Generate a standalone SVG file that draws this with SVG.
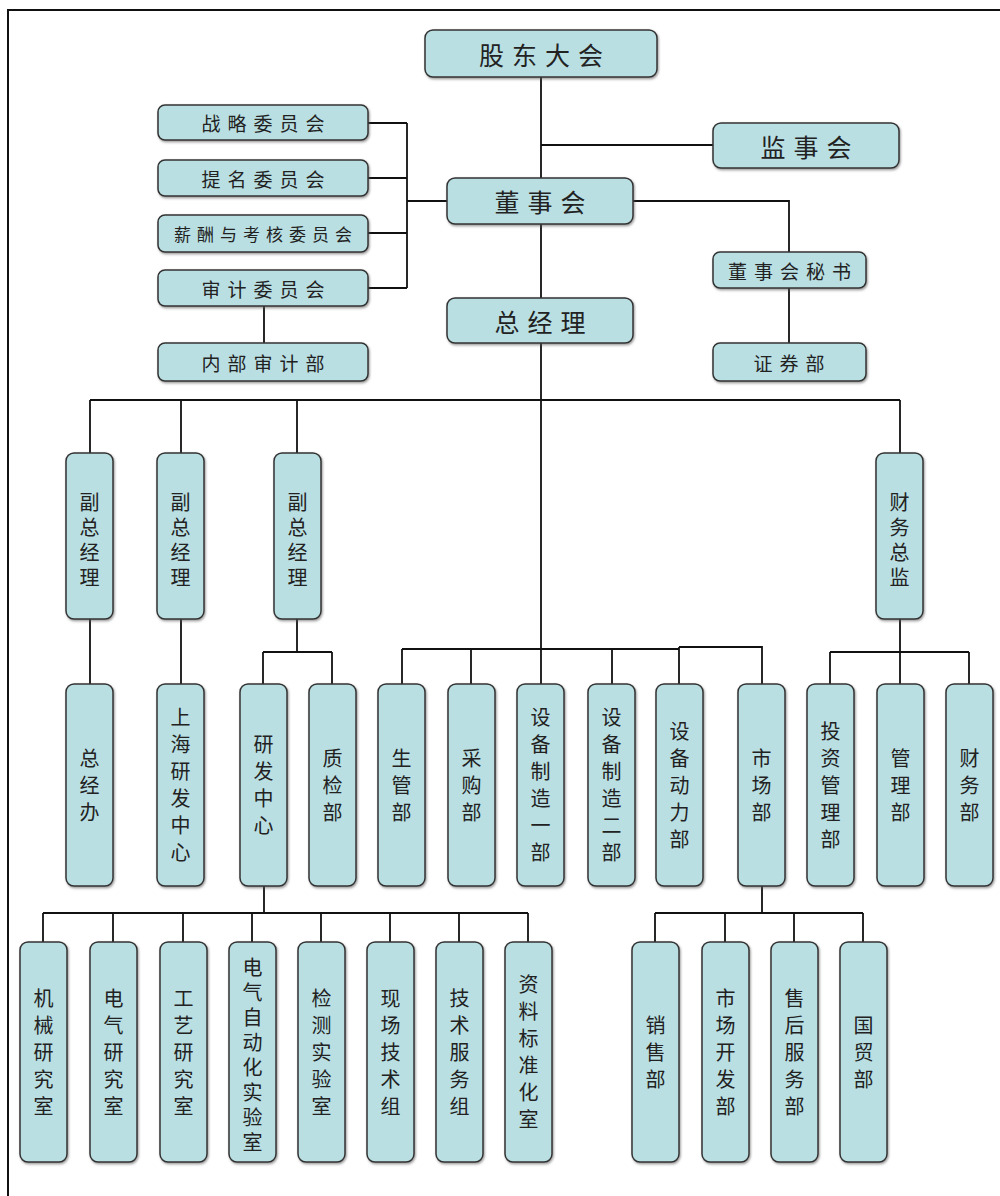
<svg xmlns="http://www.w3.org/2000/svg" width="1000" height="1196" viewBox="0 0 1000 1196">
<defs>
<filter id="sh" x="-20%" y="-20%" width="140%" height="140%">
<feDropShadow dx="1" dy="1.5" stdDeviation="0.8" flood-color="#555" flood-opacity="0.6"/>
</filter>
</defs>
<style>
.box{fill:#b9dfe2;stroke:#333;stroke-width:1.5;filter:url(#sh)}
.t{font-family:"Noto Sans CJK SC","Noto Sans",sans-serif;fill:#222;text-anchor:middle;dominant-baseline:central}
.big{font-size:25px;letter-spacing:8px}
.mid{font-size:19px;letter-spacing:7px}
.sm{font-size:17px;letter-spacing:6px}
.v{font-size:20px;writing-mode:vertical-rl;letter-spacing:7px}
.v5{letter-spacing:5px}
.ln{fill:none;stroke:#111;stroke-width:1.8}
.frame{fill:none;stroke:#111;stroke-width:2}
</style>
<rect width="1000" height="1196" fill="#fff"/>
<path class="frame" d="M8,1196 V10 H1000"/>

<g id="connectors">
<path class="ln" d="M541,77 V178 M541,145 H713 M541,224 V298 M633,201 H789 V252 M789,288 V343"/>
<path class="ln" d="M368,123 H407 M368,178 H407 M368,233 H407 M368,288 H407 M407,123 V288 M407,201 H447 M264,306 V343"/>
<path class="ln" d="M541,343 V684 M90,400 H900 M90,400 V453 M181,400 V453 M297,400 V453 M900,400 V453"/>
<path class="ln" d="M90,619 V684 M181,619 V684 M297,619 V652 M263,652 H332 M263,652 V684 M332,652 V684"/>
<path class="ln" d="M900,619 V684 M830,652 H969 M830,652 V684 M969,652 V684"/>
<path class="ln" d="M402,649 H679 M402,649 V684 M471,649 V684 M612,649 V684 M679,647 V684 M679,647 H762 V684"/>
<path class="ln" d="M264,886 V913 M43,913 H528 M43,913 V942 M113,913 V942 M183,913 V942 M252,913 V942 M321,913 V942 M390,913 V942 M459,913 V942 M528,913 V942"/>
<path class="ln" d="M762,886 V913 M655,913 H863 M655,913 V942 M725,913 V942 M794,913 V942 M863,913 V942"/>
</g>

<g id="n-gudong"><rect class="box" x="425" y="30" width="232" height="47" rx="8"/><text class="t big" x="545" y="53.5">股东大会</text></g>
<g id="n-jianshi"><rect class="box" x="713" y="123" width="186" height="45" rx="8"/><text class="t big" x="810" y="145.5">监事会</text></g>
<g id="n-dongshi"><rect class="box" x="447" y="178" width="186" height="46" rx="8"/><text class="t big" x="544" y="201">董事会</text></g>
<g id="n-zongjingli"><rect class="box" x="447" y="298" width="186" height="45" rx="8"/><text class="t big" x="544" y="320.5">总经理</text></g>
<g id="n-mishu"><rect class="box" x="713" y="252" width="153" height="36" rx="7"/><text class="t mid" x="793" y="270">董事会秘书</text></g>
<g id="n-zhengquan"><rect class="box" x="713" y="343" width="153" height="38" rx="7"/><text class="t mid" x="792.5" y="362">证券部</text></g>
<g id="n-zhanlue"><rect class="box" x="158" y="105" width="210" height="35" rx="7"/><text class="t mid" x="266.5" y="122.5">战略委员会</text></g>
<g id="n-timing"><rect class="box" x="158" y="160" width="210" height="36" rx="7"/><text class="t mid" x="266.5" y="178">提名委员会</text></g>
<g id="n-xinchou"><rect class="box" x="158" y="215" width="210" height="37" rx="7"/><text class="t sm" x="266" y="233.5">薪酬与考核委员会</text></g>
<g id="n-shenji"><rect class="box" x="158" y="270" width="210" height="36" rx="7"/><text class="t mid" x="266.5" y="288">审计委员会</text></g>
<g id="n-neibu"><rect class="box" x="158" y="343" width="210" height="38" rx="7"/><text class="t mid" x="266.5" y="362">内部审计部</text></g>

<g id="n-fu1"><rect class="box" x="66" y="453" width="47" height="166" rx="8"/><text class="t v v5" x="89.5" y="542">副总经理</text></g>
<g id="n-fu2"><rect class="box" x="157" y="453" width="47" height="166" rx="8"/><text class="t v v5" x="180.5" y="542">副总经理</text></g>
<g id="n-fu3"><rect class="box" x="274" y="453" width="47" height="166" rx="8"/><text class="t v v5" x="297.5" y="542">副总经理</text></g>
<g id="n-caiwuzongjian"><rect class="box" x="876" y="453" width="47" height="166" rx="8"/><text class="t v v5" x="899.5" y="542">财务总监</text></g>

<g id="n-zongjingban"><rect class="box" x="66" y="684" width="47" height="202" rx="8"/><text class="t v" x="89.5" y="788.5">总经办</text></g>
<g id="n-shanghai"><rect class="box" x="157" y="684" width="47" height="202" rx="8"/><text class="t v" x="180.5" y="788.5">上海研发中心</text></g>
<g id="n-yanfa"><rect class="box" x="240" y="684" width="47" height="202" rx="8"/><text class="t v" x="263.5" y="788.5">研发中心</text></g>
<g id="n-zhijian"><rect class="box" x="309" y="684" width="47" height="202" rx="8"/><text class="t v" x="332.5" y="788.5">质检部</text></g>
<g id="n-shengguan"><rect class="box" x="378" y="684" width="47" height="202" rx="8"/><text class="t v" x="401.5" y="788.5">生管部</text></g>
<g id="n-caigou"><rect class="box" x="448" y="684" width="47" height="202" rx="8"/><text class="t v" x="471.5" y="788.5">采购部</text></g>
<g id="n-zhizao1"><rect class="box" x="517" y="684" width="47" height="202" rx="8"/><text class="t v" x="540.5" y="788.5">设备制造一部</text></g>
<g id="n-zhizao2"><rect class="box" x="588" y="684" width="47" height="202" rx="8"/><text class="t v" x="611.5" y="788.5">设备制造二部</text></g>
<g id="n-dongli"><rect class="box" x="656" y="684" width="47" height="202" rx="8"/><text class="t v" x="679.5" y="788.5">设备动力部</text></g>
<g id="n-shichang"><rect class="box" x="738" y="684" width="47" height="202" rx="8"/><text class="t v" x="761.5" y="788.5">市场部</text></g>
<g id="n-touzi"><rect class="box" x="807" y="684" width="47" height="202" rx="8"/><text class="t v" x="830.5" y="788.5">投资管理部</text></g>
<g id="n-guanli"><rect class="box" x="877" y="684" width="47" height="202" rx="8"/><text class="t v" x="900.5" y="788.5">管理部</text></g>
<g id="n-caiwu"><rect class="box" x="946" y="684" width="47" height="202" rx="8"/><text class="t v" x="969.5" y="788.5">财务部</text></g>

<g id="n-jixie"><rect class="box" x="20" y="942" width="47" height="220" rx="8"/><text class="t v" x="43.5" y="1055.5">机械研究室</text></g>
<g id="n-dianqi"><rect class="box" x="90" y="942" width="47" height="220" rx="8"/><text class="t v" x="113.5" y="1055.5">电气研究室</text></g>
<g id="n-gongyi"><rect class="box" x="160" y="942" width="47" height="220" rx="8"/><text class="t v" x="183.5" y="1055.5">工艺研究室</text></g>
<g id="n-zidonghua"><rect class="box" x="229" y="942" width="47" height="220" rx="8"/><text class="t v v5" x="252.5" y="1057">电气自动化实验室</text></g>
<g id="n-jiance"><rect class="box" x="298" y="942" width="47" height="220" rx="8"/><text class="t v" x="321.5" y="1055.5">检测实验室</text></g>
<g id="n-xianchang"><rect class="box" x="367" y="942" width="47" height="220" rx="8"/><text class="t v" x="390.5" y="1055.5">现场技术组</text></g>
<g id="n-jishu"><rect class="box" x="436" y="942" width="47" height="220" rx="8"/><text class="t v" x="459.5" y="1055.5">技术服务组</text></g>
<g id="n-ziliao"><rect class="box" x="505" y="942" width="47" height="220" rx="8"/><text class="t v" x="528.5" y="1055.5">资料标准化室</text></g>

<g id="n-xiaoshou"><rect class="box" x="632" y="942" width="47" height="220" rx="8"/><text class="t v" x="655.5" y="1055.5">销售部</text></g>
<g id="n-kaifa"><rect class="box" x="702" y="942" width="47" height="220" rx="8"/><text class="t v" x="725.5" y="1055.5">市场开发部</text></g>
<g id="n-shouhou"><rect class="box" x="771" y="942" width="47" height="220" rx="8"/><text class="t v" x="794.5" y="1055.5">售后服务部</text></g>
<g id="n-guomao"><rect class="box" x="840" y="942" width="47" height="220" rx="8"/><text class="t v" x="863.5" y="1055.5">国贸部</text></g>
</svg>
